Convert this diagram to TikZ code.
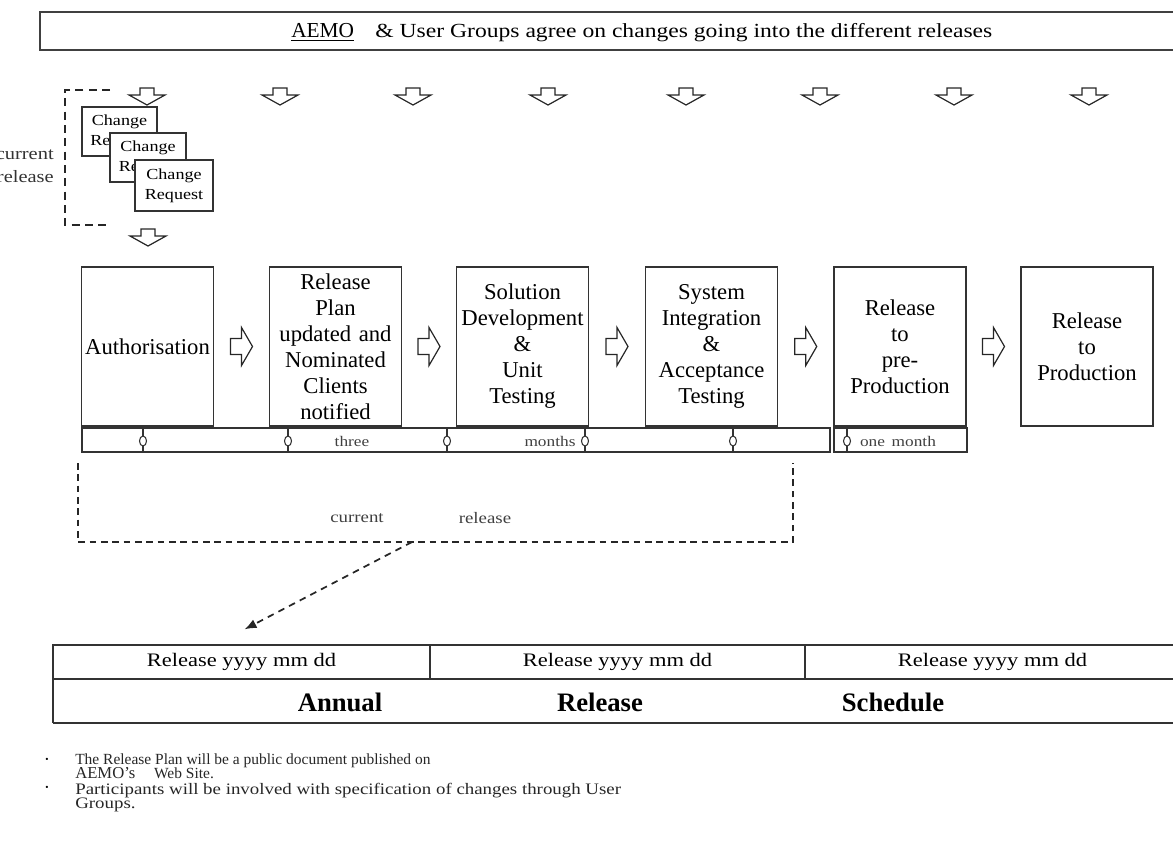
\documentclass[tikz,border=0pt]{standalone}
\usepackage{fontspec}
\setmainfont{Liberation Serif}
\newfontfamily\wideserif{Liberation Serif}[FakeStretch=1.18]
\usepackage{tikz}
\usetikzlibrary{calc,arrows.meta}

\tikzset{
  procbox/.style={draw=black!80, line width=1.1pt, fill=white, inner sep=0pt,
    minimum width=99pt, minimum height=119.25pt, text width=99pt, align=center,
    font=\fontsize{17}{19.5}\selectfont},
  crbox/.style={draw=black!80, line width=1pt, fill=white, inner sep=0pt, align=center,
    font=\wideserif\fontsize{11.5}{15}\selectfont},
  relcell/.style={draw=black!80, line width=1pt, inner sep=0pt, minimum height=25.5pt,
    font=\wideserif\fontsize{14.3}{15}\selectfont},
  boldlbl/.style={inner sep=0pt, font=\bfseries\fontsize{20}{22}\selectfont},
  smalllbl/.style={inner sep=0pt, text=black!75, font=\wideserif\fontsize{11}{13}\selectfont},
  notetxt/.style={inner sep=0pt, align=left, text=black!85, font=\fontsize{11.6}{10.8}\selectfont},
  dashline/.style={draw=black!85, line width=1.2pt, dash pattern=on 6pt off 4pt},
  downarr/.pic={\draw[draw=black!85, line width=0.9pt, fill=white] (-7,0) -- (7,0) -- (7,-7) -- (18,-7) -- (0,-17) -- (-18,-7) -- (-7,-7) -- cycle;},
  rightarr/.pic={\draw[draw=black!85, line width=0.9pt, fill=white] (-11,-8) -- (0,-8) -- (0,-19) -- (11,0) -- (0,19) -- (0,8) -- (-11,8) -- cycle;}
}

\begin{document}
\begin{tikzpicture}[x=0.75pt,y=0.75pt,yscale=-1,xscale=1]
\clip (0,0) rectangle (1173,840);

% Banner
\draw[draw=black!75, line width=1.4pt] (40,12) rectangle (1190,50);
\node[anchor=west, inner sep=0pt] (agree) at (291,33) {{\fontsize{16}{18}\selectfont\underline{AEMO}}\hspace{16pt}{\wideserif\fontsize{15}{16}\selectfont \& User Groups agree on changes going into the different releases}};

% Down arrows from banner
\foreach \ax in {147,280,413,548,686,820,954,1089}
  \pic at (\ax,88) {downarr};

% Change requests
\draw[dashline] (110,90) -- (65,90) -- (65,225) -- (110,225);
\node[anchor=east, align=right, inner sep=0pt, text=black!80, font=\wideserif\fontsize{13}{17}\selectfont] (curleft) at (54,166) {current\\release};
\node[crbox, minimum width=56.25pt, minimum height=36.75pt] (cr1) at (119.5,131.5) {Change\\Request};
\node[crbox, minimum width=57pt, minimum height=36.75pt] (cr2) at (148,157.5) {Change\\Request};
\node[crbox, minimum width=58.5pt, minimum height=38.25pt] (cr3) at (174,185.5) {Change\\Request};
\pic at (148,229) {downarr};

% Process boxes
\node[procbox] (auth) at (147.5,346.5) {Authorisation};
\node[procbox] (plan) at (335.5,346.5) {Release\\Plan\\updated and\\Nominated\\Clients\\notified};
\node[procbox] (soln) at (522.5,346.5) {Solution\\Development\\\&\\Unit\\Testing};
\node[procbox] (sit) at (711.5,346.5) {System\\Integration\\\&\\Acceptance\\Testing};
\node[procbox] (prepro) at (900,346.5) {Release\\to\\pre-\\Production};
\node[procbox] (prod) at (1087,346.5) {Release\\to\\Production};

\pic at ($(auth.east)!0.5!(plan.west)$) {rightarr};
\pic at ($(plan.east)!0.5!(soln.west)$) {rightarr};
\pic at ($(soln.east)!0.5!(sit.west)$) {rightarr};
\pic at ($(sit.east)!0.5!(prepro.west)$) {rightarr};
\pic at ($(prepro.east)!0.5!(prod.west)$) {rightarr};

% Timeline
\draw[draw=black!80, line width=1.1pt] (82,428) rectangle (830,452);
\draw[draw=black!80, line width=1.1pt] (834,428) rectangle (967,452);
\foreach \mx in {143,288,447,585,733,847} {
  \draw[draw=black!80, line width=0.8pt] (\mx,428) -- (\mx,452);
  \draw[draw=black!80, line width=0.8pt, fill=white] (\mx,441) ellipse [x radius=3.5, y radius=5];
}
\node[smalllbl] (three) at (352,441) {three};
\node[smalllbl] (months) at (550,441) {months};
\node[smalllbl] (onemonth) at (898,441) {one\hspace{5pt}month};

% Current release
\draw[dashline, line width=1pt, dash pattern=on 5pt off 3.5pt] (78,463) -- (78,542) -- (793,542) -- (793,463);
\node[smalllbl, font=\wideserif\fontsize{12}{14}\selectfont] (curtxt) at (357,518) {current};
\node[smalllbl, font=\wideserif\fontsize{12}{14}\selectfont] (reltxt) at (485,518) {release};
\coordinate (curfoot) at (412,542);

% Annual release schedule
\node[relcell, minimum width=282.75pt] (rel1) at (241.5,662) {Release yyyy mm dd};
\node[relcell, minimum width=281.25pt] (rel2) at (617.5,662) {Release yyyy mm dd};
\node[relcell, minimum width=281.25pt] (rel3) at (992.5,662) {Release yyyy mm dd};
\draw[draw=black!80, line width=1pt] (53,679) -- (53,723);
\draw[draw=black!80, line width=1.6pt] (53,723) -- (1180,723);
\node[boldlbl] (annual) at (340,702) {Annual};
\node[boldlbl] (release) at (600,702) {Release};
\node[boldlbl] (schedule) at (893,702) {Schedule};

\draw[dashline, line width=1.3pt, dash pattern=on 5pt off 4pt, -{Latex[length=9pt,width=7pt]}] (curfoot) -- ($(rel1.north)+(3,-15)$);

% Notes
\node[inner sep=0pt, font=\fontsize{7}{8}\selectfont] (dot1) at (47,760) {\textbullet};
\node[inner sep=0pt, font=\fontsize{7}{8}\selectfont] (dot2) at (47,788) {\textbullet};
\node[notetxt, anchor=north west] (note1) at (75,753) {The Release Plan will be a public document published on\\{\fontsize{12.5}{10.8}\selectfont AEMO's}\hspace{14pt}Web Site.};
\node[notetxt, anchor=north west, font=\wideserif\fontsize{12}{10.8}\selectfont] (note2) at (75,783) {Participants will be involved with specification of changes through User\\Groups.};

\end{tikzpicture}
\end{document}
